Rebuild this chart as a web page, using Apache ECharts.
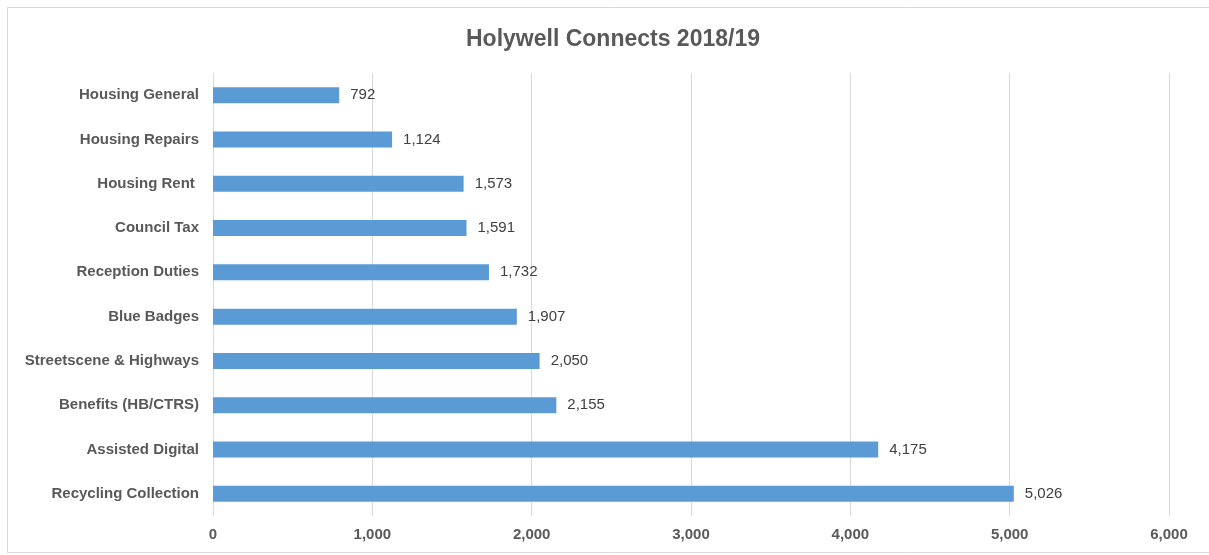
<!DOCTYPE html>
<html>
<head>
<meta charset="utf-8">
<script src="https://cdn.jsdelivr.net/npm/echarts@6/dist/echarts.min.js"></script>
<style>
html,body{margin:0;padding:0;background:#fff;}
#c{width:1209px;height:555px;}
</style>
</head>
<body>
<div id="c"></div>
<script>
const categories = ["Recycling Collection","Assisted Digital","Benefits (HB/CTRS)","Streetscene & Highways","Blue Badges","Reception Duties","Council Tax","Housing Rent ","Housing Repairs","Housing General"];
const values = [5026,4175,2155,2050,1907,1732,1591,1573,1124,792];
const xTicks = [0,1000,2000,3000,4000,5000,6000];

const chart = echarts.init(document.getElementById('c'), null, {renderer:'canvas'});
chart.setOption({
  animation:false,
  backgroundColor:'#ffffff',
  title:{
    text:'Holywell Connects 2018/19',
    left:461, top:23,
    textStyle:{fontFamily:'Liberation Sans, Arial, sans-serif',fontSize:23,fontWeight:'bold',color:'#595959'}
  },
  graphic:[{
    type:'rect', silent:true,
    shape:{x:7.5,y:7.5,width:1210,height:545},
    style:{fill:'none',stroke:'#D9D9D9',lineWidth:1}
  }],
  grid:{left:213,right:40,top:73,bottom:39,containLabel:false},
  xAxis:{
    type:'value', min:xTicks[0], max:xTicks[xTicks.length-1], interval:1000,
    axisLine:{show:false}, axisTick:{show:false},
    splitLine:{show:true,lineStyle:{color:'#D9D9D9',width:1}},
    axisLabel:{
      margin:11,
      fontFamily:'Liberation Sans, Arial, sans-serif',fontSize:15,fontWeight:'bold',color:'#595959',
      formatter:v=>v.toLocaleString('en-US')
    }
  },
  yAxis:{
    type:'category', data:categories,
    axisLine:{show:false}, axisTick:{show:false},
    axisLabel:{margin:14,fontFamily:'Liberation Sans, Arial, sans-serif',fontSize:15,fontWeight:'bold',color:'#595959',padding:[2,0,0,0]}
  },
  series:[{
    type:'bar', data:values, barWidth:16,
    itemStyle:{color:'#5B9BD5'},
    label:{
      show:true, position:'right', distance:11,
      fontFamily:'Liberation Sans, Arial, sans-serif',fontSize:15,color:'#404040',padding:[2,0,0,0],
      formatter:p=>p.value.toLocaleString('en-US')
    }
  }]
});
</script>
</body>
</html>
